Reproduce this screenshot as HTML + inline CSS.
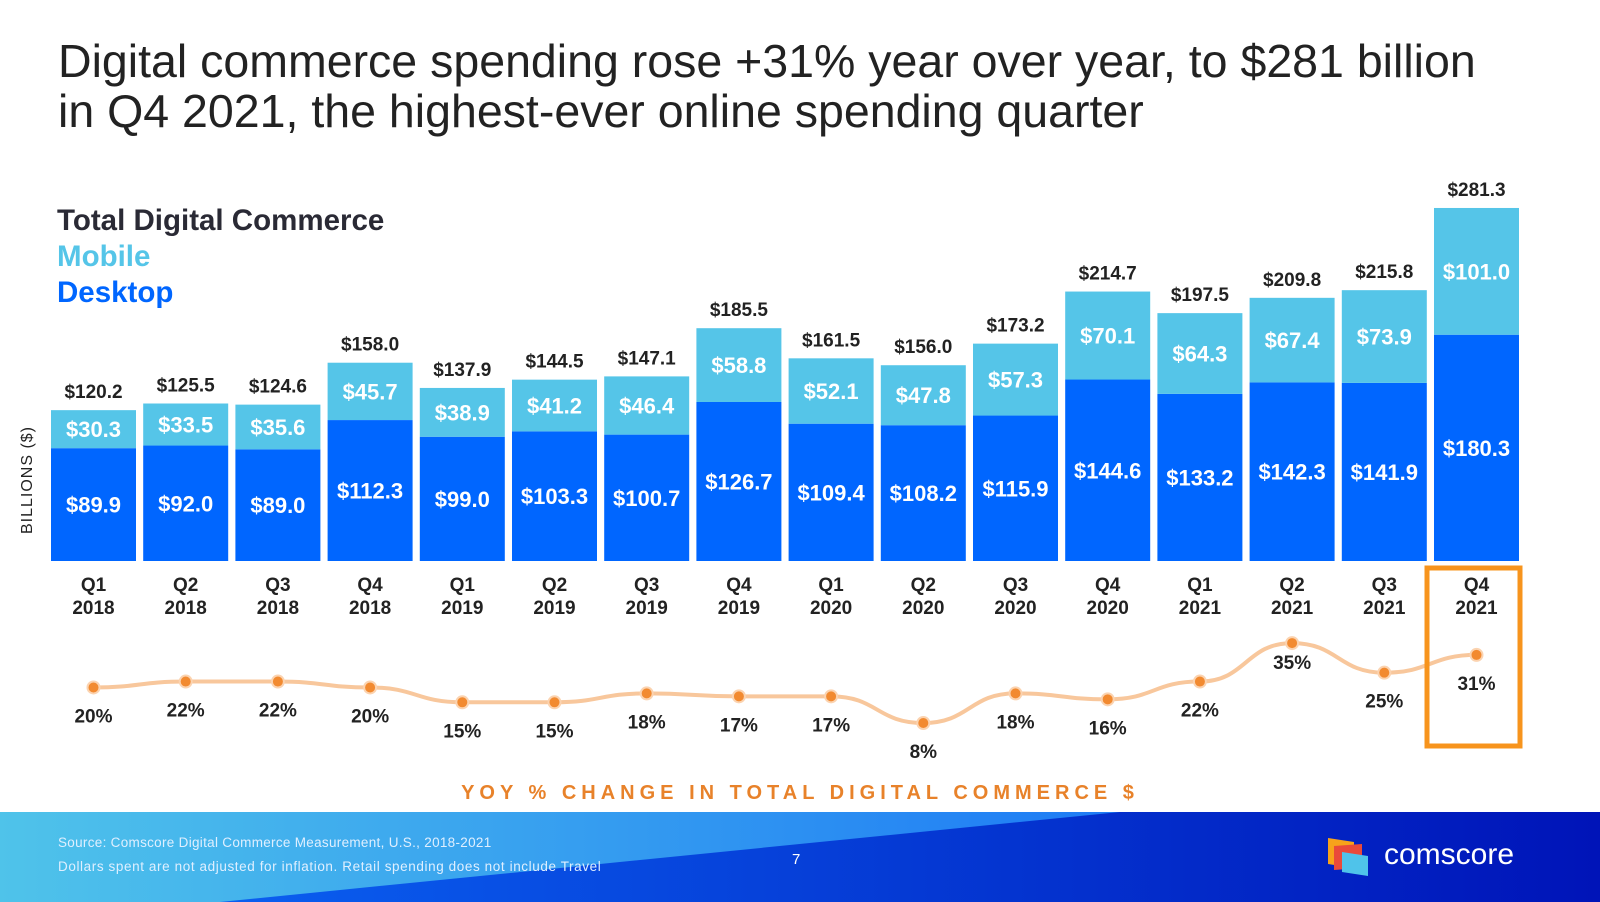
<!DOCTYPE html>
<html><head><meta charset="utf-8"><style>
body{margin:0;width:1600px;height:900px;overflow:hidden;background:#fff;font-family:"Liberation Sans",Arial,sans-serif;position:relative}
.t{position:absolute;white-space:nowrap}
</style></head><body>
<div class="t" style="left:58px;top:36px;font-size:46.5px;line-height:50px;color:#222">Digital commerce spending rose +31% year over year, to $281 billion<br>in Q4 2021, the highest-ever online spending quarter</div>
<div class="t" style="left:57px;top:204px;font-size:29.5px;font-weight:bold;color:#2a2a35">Total Digital Commerce</div>
<div class="t" style="left:57px;top:240px;font-size:29.5px;font-weight:bold;color:#55c5e8">Mobile</div>
<div class="t" style="left:57px;top:276px;font-size:29.5px;font-weight:bold;color:#0066ff">Desktop</div>
<div class="t" style="left:28px;top:480px;font-size:16px;color:#222;transform:translate(-50%,-50%) rotate(-90deg);letter-spacing:1px">BILLIONS ($)</div>
<svg id="chart" width="1600" height="900" style="position:absolute;left:0;top:0"></svg>
<div class="t" style="left:0;width:1600px;text-align:center;top:782px;font-size:20px;font-weight:bold;color:#e8822a;letter-spacing:5px">YOY % CHANGE IN TOTAL DIGITAL COMMERCE $</div>
<svg width="1600" height="90" style="position:absolute;left:0;top:812px">
<defs><linearGradient id="g1" x1="0" y1="0" x2="1" y2="0"><stop offset="0" stop-color="#4fc3ea"/><stop offset="0.7" stop-color="#1e7bf5"/></linearGradient>
<linearGradient id="g2" x1="0" y1="0" x2="1" y2="0"><stop offset="0" stop-color="#0a5ff0"/><stop offset="1" stop-color="#0014b8"/></linearGradient></defs>
<rect width="1600" height="90" fill="url(#g1)"/>
<polygon points="1120,0 1600,0 1600,90 220,90" fill="url(#g2)"/>
</svg>
<div class="t" style="left:58px;top:835px;font-size:13.5px;color:#dfefff;letter-spacing:0.3px">Source: Comscore Digital Commerce Measurement, U.S., 2018-2021</div>
<div class="t" style="left:58px;top:859px;font-size:13.5px;color:#dfefff;letter-spacing:0.6px">Dollars spent are not adjusted for inflation. Retail spending does not include Travel</div>
<div class="t" style="left:792px;top:851px;font-size:15px;color:#fff">7</div>
<svg width="45" height="40" style="position:absolute;left:1328px;top:838px">
<polygon points="0,0 26,4 26,30 0,26" fill="#f7a21b"/><polygon points="6,8 34,6 34,30 6,32" fill="#ea4a3a"/><polygon points="14,14 40,18 40,38 14,34" fill="#4fc3ea"/></svg>
<div class="t" style="left:1384px;top:838px;font-size:30px;color:#fff">comscore</div>
<script>
const categories=["Q1|2018","Q2|2018","Q3|2018","Q4|2018","Q1|2019","Q2|2019","Q3|2019","Q4|2019","Q1|2020","Q2|2020","Q3|2020","Q4|2020","Q1|2021","Q2|2021","Q3|2021","Q4|2021"];
const desktop=[89.9,92.0,89.0,112.3,99.0,103.3,100.7,126.7,109.4,108.2,115.9,144.6,133.2,142.3,141.9,180.3];
const mobile=[30.3,33.5,35.6,45.7,38.9,41.2,46.4,58.8,52.1,47.8,57.3,70.1,64.3,67.4,73.9,101.0];
const totals=[120.2,125.5,124.6,158.0,137.9,144.5,147.1,185.5,161.5,156.0,173.2,214.7,197.5,209.8,215.8,281.3];
const yoy=[20,22,22,20,15,15,18,17,17,8,18,16,22,35,25,31];
const svg=document.getElementById('chart');const NS='http://www.w3.org/2000/svg';
const x0=51,pitch=92.2,bw=85,base=561,k=1.255;
const X=i=>x0+i*pitch, Y=v=>base-v*k, YL=p=>723-(p-8)*2.96;
function mk(t,a){const e=document.createElementNS(NS,t);for(const n in a)e.setAttribute(n,a[n]);svg.appendChild(e);return e;}
function tx(x,y,s,size,col,w){const e=mk('text',{x:x,y:y,'text-anchor':'middle','font-size':size,fill:col,'font-weight':w||'bold','font-family':'Liberation Sans, Arial, sans-serif'});e.textContent=s;return e;}
categories.forEach((c,i)=>{
 const cx=X(i)+bw/2,yd=Y(desktop[i]),ym=Y(desktop[i]+mobile[i]);
 const d=mk('rect',{x:X(i),y:yd,width:bw,height:base-yd,fill:'#0066ff'});
 
 const m=mk('rect',{x:X(i),y:ym,width:bw,height:yd-ym,fill:'#55c5e8'});
 
 tx(cx,(yd+base)/2+8,'$'+desktop[i].toFixed(1),22,'#fff');
 tx(cx,(ym+yd)/2+8,'$'+mobile[i].toFixed(1),22,'#fff');
 const tl=tx(cx,ym-12,'$'+totals[i].toFixed(1),19,'#222');
 
 const p=c.split('|');tx(cx,591,p[0],19,'#222');tx(cx,614,p[1],19,'#222');
});
let dstr='';yoy.forEach((v,i)=>{const cx=X(i)+bw/2,cy=YL(v);
 if(i==0)dstr='M'+cx+','+cy;else{const px=X(i-1)+bw/2,py=YL(yoy[i-1]);dstr+=' C'+(px+pitch/2)+','+py+' '+(cx-pitch/2)+','+cy+' '+cx+','+cy;}});
const ln=mk('path',{d:dstr,fill:'none',stroke:'#f8c79c','stroke-width':4});

yoy.forEach((v,i)=>{const cx=X(i)+bw/2,cy=YL(v);
 const c=mk('circle',{cx:cx,cy:cy,r:6,fill:'#f28a30',stroke:'#fbd3b0','stroke-width':2});
 
 tx(cx,cy+(v==35?26:35),v+'%',19,'#222');});
const box=mk('rect',{x:1427,y:568,width:93,height:178,fill:'none',stroke:'#f7941d','stroke-width':5});

</script>
</body></html>
